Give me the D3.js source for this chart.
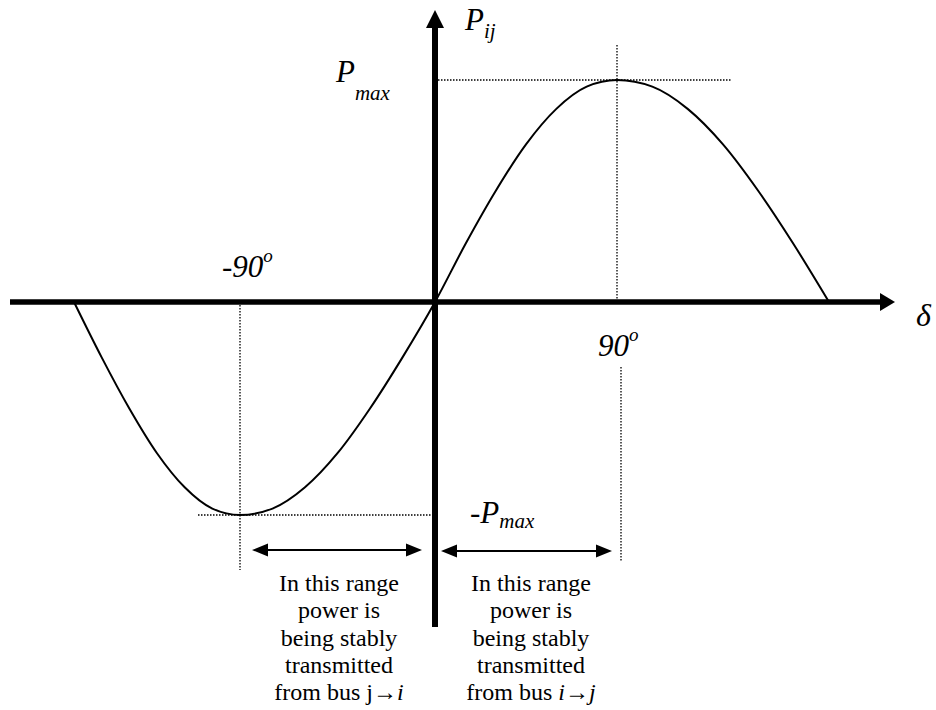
<!DOCTYPE html>
<html>
<head>
<meta charset="utf-8">
<script src="https://cdn.jsdelivr.net/npm/d3@7"></script>
<style>
  body { margin: 0; background: #fff; }
</style>
</head>
<body>
<div id="chart"></div>
<script>
// power angle curve (degrees -> P / Pmax)
const angles = [-180, -165, -150, -135, -120, -105, -90, -75, -60, -45, -30, -15, 0,
                15, 30, 45, 60, 75, 90, 105, 120, 135, 150, 165, 180];
const pValues = [0, -0.26, -0.5, -0.71, -0.87, -0.97, -1, -0.97, -0.87, -0.71, -0.5, -0.26, 0,
                 0.26, 0.5, 0.71, 0.87, 0.97, 1, 0.97, 0.87, 0.71, 0.5, 0.26, 0];
const angleTicks = [-90, 90];
const leftNote = ['In this range', 'power is', 'being stably', 'transmitted'];
const rightNote = ['In this range', 'power is', 'being stably', 'transmitted'];

const width = 936, height = 710;
const serif = '"Liberation Serif", "Times New Roman", Tinos, serif';

const svg = d3.select('#chart').append('svg')
    .attr('width', width)
    .attr('height', height)
    .style('font-family', serif);

// hand drawn figure, so the angle axis is not quite even
const x = d3.scaleLinear()
    .domain([-180, -90, 0, 90, 180])
    .range([74, 240, 435, 617, 829]);

const y = d3.scaleLinear()
    .domain([-1, 0, 1])
    .range([515, 302, 80]);

const x0 = x(0), y0 = y(0);

// dotted guide lines
const guides = [
    [x(0) + 3, y(1), 732, y(1)],
    [x(90), 45, x(90), y0 - 3],
    [x(90) + 4, 367, x(90) + 4, 562],
    [x(-90), y0 + 3, x(-90), 570],
    [198, y(-1), x(0) - 3, y(-1)]
];
svg.selectAll('.guide')
    .data(guides)
    .enter()
    .append('line')
    .attr('class', 'guide')
    .attr('x1', d => d[0]).attr('y1', d => d[1])
    .attr('x2', d => d[2]).attr('y2', d => d[3])
    .style('stroke', '#000')
    .style('stroke-width', 1.3)
    .style('stroke-dasharray', '1.5,1.5');

// axes
svg.append('line')
    .attr('x1', 10).attr('y1', y0)
    .attr('x2', 882).attr('y2', y0)
    .style('stroke', '#000')
    .style('stroke-width', 5.5);
svg.append('path')
    .attr('d', `M895,${y0} L880,${y0 - 9} L880,${y0 + 9} Z`)
    .attr('fill', '#000');

svg.append('line')
    .attr('x1', x0).attr('y1', 627)
    .attr('x2', x0).attr('y2', 26)
    .style('stroke', '#000')
    .style('stroke-width', 6);
svg.append('path')
    .attr('d', `M${x0},10 L${x0 - 9},28 L${x0 + 9},28 Z`)
    .attr('fill', '#000');

// curve
const line = d3.line()
    .x((d, i) => x(angles[i]))
    .y(d => y(d))
    .curve(d3.curveMonotoneX);

svg.append('path')
    .datum(pValues)
    .attr('d', line)
    .attr('fill', 'none')
    .style('stroke', '#000')
    .style('stroke-width', 2);

// double headed arrows under the axis
function doubleArrow(xa, xb, yy) {
    const g = svg.append('g');
    g.append('line')
        .attr('x1', xa + 10).attr('y1', yy)
        .attr('x2', xb - 10).attr('y2', yy)
        .style('stroke', '#000')
        .style('stroke-width', 2);
    g.append('path')
        .attr('d', `M${xa},${yy} L${xa + 16},${yy - 6.5} L${xa + 16},${yy + 6.5} Z M${xb},${yy} L${xb - 16},${yy - 6.5} L${xb - 16},${yy + 6.5} Z`)
        .attr('fill', '#000');
}
doubleArrow(x(-90) + 12, x(0) - 13, 550);
doubleArrow(x(0) + 6, x(90) - 5, 551);

// axis labels
const lab = svg.append('g').style('font-style', 'italic').style('font-family', serif);

const pij = lab.append('text').attr('x', 465).attr('y', 30).style('font-size', '31px');
pij.append('tspan').text('P');
pij.append('tspan').attr('dy', 8).style('font-size', '21px').text('ij');

const pmax = lab.append('text').attr('x', 336).attr('y', 82).style('font-size', '31px');
pmax.append('tspan').text('P');
pmax.append('tspan').attr('dy', 18).style('font-size', '21px').text('max');

const npmax = lab.append('text').attr('x', 470).attr('y', 523).style('font-size', '31px');
npmax.append('tspan').text('-P');
npmax.append('tspan').attr('dy', 5).style('font-size', '21px').text('max');

lab.append('text')
    .attr('x', 916).attr('y', 326)
    .style('font-size', '32px')
    .text('\u03b4');

// degree labels
const tickPos = { '-90': [222, 277], '90': [598, 356] };
angleTicks.forEach(a => {
    const t = lab.append('text')
        .attr('x', tickPos[a][0]).attr('y', tickPos[a][1])
        .style('font-size', '31px');
    t.append('tspan').text(a);
    t.append('tspan').attr('dy', -15).style('font-size', '19px').text('o');
});

// notes
function note(lines, cx, last) {
    const g = svg.append('g')
        .attr('text-anchor', 'middle')
        .style('font-family', serif)
        .style('font-size', '24px');
    lines.forEach((s, i) => {
        g.append('text').attr('x', cx).attr('y', 591 + i * 27.3).text(s);
    });
    const t = g.append('text').attr('x', cx).attr('y', 700);
    last.forEach(p => {
        t.append('tspan').style('font-style', p[1] ? 'italic' : 'normal').text(p[0]);
    });
}
note(leftNote, 339, [['from bus j', false], ['\u2192', false], ['i', true]]);
note(rightNote, 531, [['from bus ', false], ['i', true], ['\u2192', false], ['j', true]]);
</script>
</body>
</html>
